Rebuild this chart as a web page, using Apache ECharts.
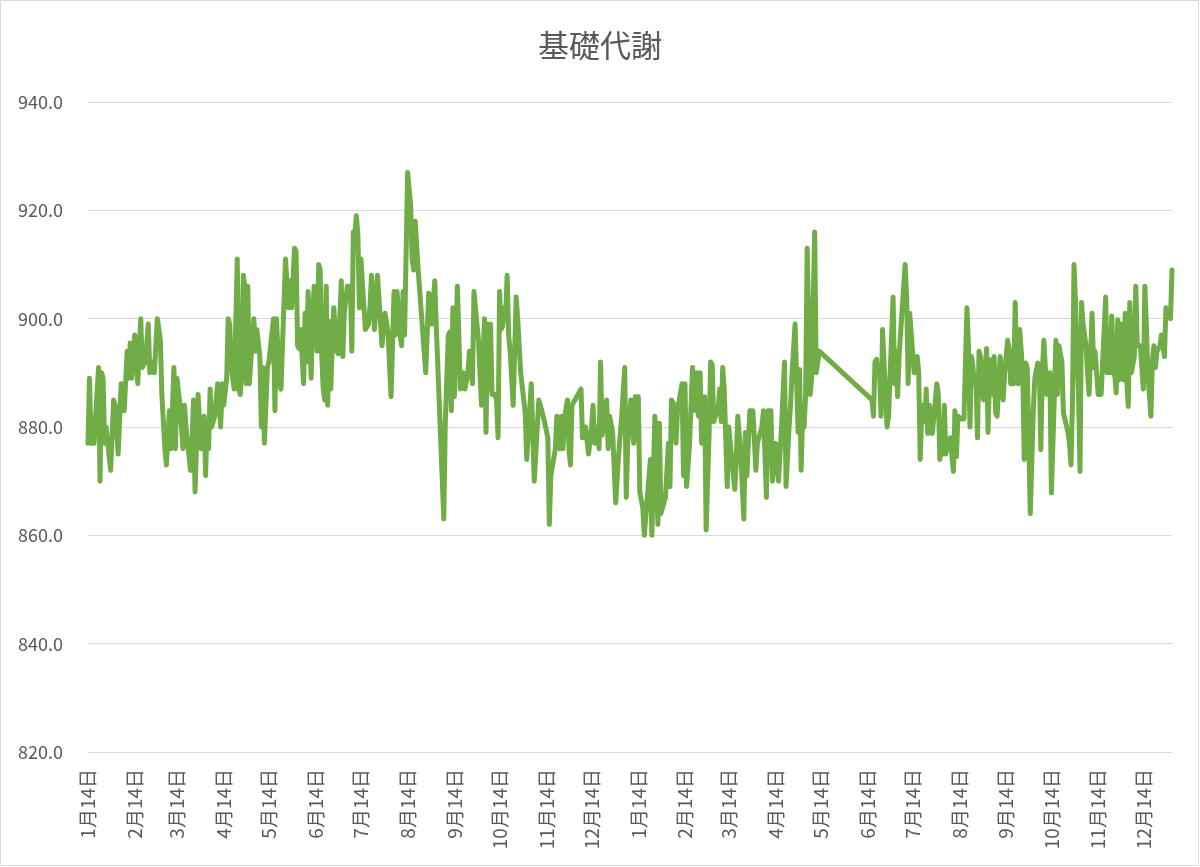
<!DOCTYPE html>
<html>
<head>
<meta charset="utf-8">
<script src="https://cdn.jsdelivr.net/npm/echarts@6/dist/echarts.min.js"></script>
<style>
html,body{margin:0;padding:0;background:#fff;}
#chart{width:1200px;height:867px;}
</style>
</head>
<body>
<div id="chart"></div>
<script>
// Chart title
const chartTitle = '基礎代謝';
// First day of the axis and number of days shown
const startYear = 2019, startMonth = 1, startDay = 14;
const dayCount = 720;
// Measurement days (offset in days from the start date)
const dayOffsets = [
  0,1,2,4,7,8,9,10,11,12,15,17,18,20,22,24,26,27,28,29,31,33,35,36,38,40,41,43,44,46,48,49,51,52,54,55,57,58,59,61,63,
  64,65,68,69,70,71,73,74,75,77,78,79,80,81,82,84,86,88,89,90,92,93,94,95,97,99,100,101,102,103,104,105,106,107,108,110,111,112,114,115,116,117,119,120,123,124,125,126,127,128,
  131,133,134,135,137,138,139,140,141,143,144,145,146,148,149,150,152,153,154,155,156,157,158,159,160,161,163,165,166,168,169,170,172,174,175,176,177,178,179,180,181,182,184,186,187,188,190,191,192,193,195,196,
  197,199,201,203,204,205,207,208,209,210,212,214,215,216,217,219,224,226,227,228,230,231,236,237,239,240,241,242,243,245,247,249,250,252,253,255,256,259,261,263,
  264,265,266,267,268,270,271,272,273,274,275,276,277,278,279,280,282,284,285,286,287,290,291,294,296,299,301,303,305,306,307,310,311,313,314,315,316,318,319,320,321,323,325,327,328,
  330,332,333,334,335,336,338,339,340,341,343,344,345,346,348,350,352,354,356,357,358,360,362,363,365,366,368,369,370,373,374,376,377,378,379,380,383,385,386,387,389,390,391,394,395,
  396,397,399,401,403,404,405,406,407,409,410,412,413,414,415,416,418,419,420,421,422,424,425,427,429,430,431,432,433,435,436,437,438,439,441,443,444,447,448,450,451,453,454,456,458,459,460,462,
  463,465,466,467,469,470,471,472,473,474,475,476,477,479,480,482,483,484,485,520,521,522,523,524,525,526,527,
  530,531,534,535,536,537,538,540,542,543,544,545,546,548,550,551,552,553,554,555,556,557,558,559,560,563,564,565,566,567,568,569,570,571,572,574,575,576,577,579,581,583,584,585,586,587,588,589,590,591,592,594,
  596,597,598,599,600,601,602,603,605,607,608,610,611,612,614,615,616,617,618,619,620,621,622,623,625,627,628,630,631,632,633,634,635,636,638,639,641,642,643,644,645,646,647,648,650,651,652,653,654,655,656,657,658,659,660,
  662,663,664,666,667,668,669,670,672,673,675,676,677,678,679,680,681,682,683,684,685,687,688,689,690,691,692,694,695,696,698,700,701,702,703,705,706,707,708,709,711,712,713,714,715,716,718,719
];
// 基礎代謝 values for those days
const values = [
  877,889,877,877,891,870,890,889,877,880,872,885,884,875,888,883,894,889,895.5,889,897,888,900,891,892,899,890,892,890,900,896,886,876,873,883,876,891,876,889,884,876,
  884,880,872,877,885,868,886,886,876,882,871,881,876,887,880,882,888,880,888,884,889,900,899,891,887,911,887,886,890,908,906,888,906,888,888,900,894,898,893,880,891,877,891,892,900,883,900,900,888,887,
  911,902,907,902,913,912.5,895,894.5,898,888,901,892,905,889,900,906,894,910,909,893.7,887,885,906,884,899.5,887,902,894,893.5,907,893,901,906,906,894,916,915.5,919,915.5,902,911,911,898,899,902,908,898,898,908,908,895,895,
  901,897.5,885.6,905,897,905,897,895,905,897,927,921,911,909,918,909,890,904.7,905,899,907,898.6,863,881,897,897.5,883,902,885.6,906,887,890,887,890,894,888,905,896,884,900,
  879,899,887,899,886,886,885,878,905,898,898.6,902,900,908,897,894,884,904,900,895,890,882.6,874,888,870,885,883,880.7,878,862,871,876,882,876,882,876,881.5,885,876,873,884,885,886,887,878,
  880,875,875,880,884,877,880,876,892,878.5,882,885,876,882,879,866,875,882,891,867,877,885,877,885.6,885.6,868,865,860,860,874,860,882,874,862,880.7,864,867,877,869,885,884,877,883,888,871,
  888,869,877,891,883,890,882,890,877,885.6,861,879,892,891.5,881,881,883.5,887,881,891,887,869,880,874,868.5,874,882,882,875,863,879,871,871,883,883,872,877,880,883,867,883,883,870,877,870,870,880,892,
  869,880,884,890,899,899,879,890.6,872,882,880,886,913,886,889,916,890,890,894,885,882,892,892.5,889.5,890.5,882,898,
  880,882,904,888,894,885.6,893,901.7,910,904,888,901,901,890,893,890,874,882.6,884,881,887,878.8,884,884,878.8,888,886,874,877,875,884,875,876.4,876.4,878,871.8,883,874.5,882,881.5,881.5,902,895,880,893,891,888,889,878,894,893,885,
  894.5,879,890,892.4,886,893,882.6,882,893,885,890,896,894.5,888,888,903,891,888,898,898,890,874,891.8,891,864,883,889,891.8,891,875.8,890,896,896,886,890,867.8,886,896,886,895,895,892,882.6,882.6,879,877,873,885,910,903,893,886,871.8,903,899,
  895,890,886,901,891,894,894,886,886,886,904,890,893,890,900.5,893,893,886.3,899.8,888.7,899,888.7,901,888.7,883.8,903,890,893,906,895,895,887,906,898.6,890,882,892.4,895,891,894,895,897,895,893,902,901,900,909
];
// Y axis range and step
const yMin = 820, yMax = 940, yStep = 20;

const categories = [];
for (let i = 0; i < dayCount; i++) {
  const d = new Date(Date.UTC(startYear, startMonth - 1, startDay + i));
  categories.push((d.getUTCMonth() + 1) + '月' + d.getUTCDate() + '日');
}
const seriesData = new Array(dayCount).fill(null);
dayOffsets.forEach((o, i) => { seriesData[o] = values[i]; });

const textColor = '#595959';
const font = '"Noto Sans CJK JP", "Noto Sans", sans-serif';
const chart = echarts.init(document.getElementById('chart'), null, {renderer: 'canvas'});
chart.setOption({
  animation: false,
  backgroundColor: '#ffffff',
  title: {
    text: chartTitle,
    left: 'center',
    top: 25,
    textStyle: {color: textColor, fontSize: 31, fontWeight: 'normal', fontFamily: font}
  },
  graphic: [{
    type: 'rect',
    shape: {x: 0.5, y: 0.5, width: 1198, height: 865},
    style: {fill: 'none', stroke: '#D9D9D9', lineWidth: 1},
    silent: true
  }],
  grid: {left: 88, right: 28, top: 102, bottom: 115},
  xAxis: {
    type: 'category',
    data: categories,
    boundaryGap: false,
    axisLine: {show: true, lineStyle: {color: '#D9D9D9', width: 1}},
    axisTick: {show: false},
    splitLine: {show: false},
    axisLabel: {
      rotate: 90,
      margin: 17,
      color: textColor,
      fontSize: 19,
      fontFamily: font,
      interval: function (idx, val) { return /月14日$/.test(val); }
    }
  },
  yAxis: {
    type: 'value',
    min: yMin,
    max: yMax,
    interval: yStep,
    axisLine: {show: false},
    axisTick: {show: false},
    splitLine: {lineStyle: {color: '#D9D9D9', width: 1}},
    axisLabel: {
      margin: 25,
      color: textColor,
      fontSize: 18,
      fontFamily: font,
      formatter: function (v) { return v.toFixed(1); }
    }
  },
  series: [{
    name: chartTitle,
    type: 'line',
    data: seriesData,
    connectNulls: true,
    showSymbol: false,
    symbol: 'none',
    lineStyle: {color: '#70AD47', width: 5, join: 'round', cap: 'round'},
    itemStyle: {color: '#70AD47'}
  }]
});
</script>
</body>
</html>
